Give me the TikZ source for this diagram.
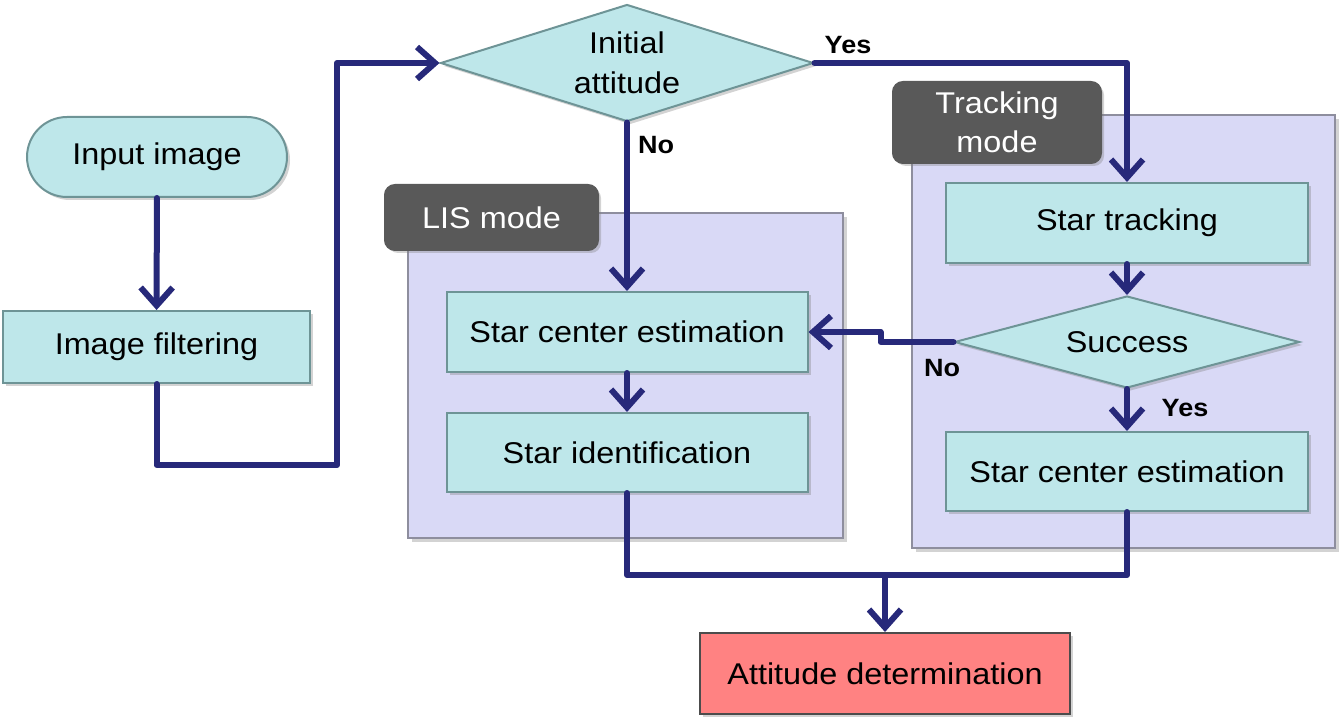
\documentclass[tikz,border=0pt]{standalone}
\usepackage{fontspec}
\setmainfont[FakeStretch=1.08]{Liberation Sans}
\usetikzlibrary{shapes.geometric,shadows,arrows.meta}

\definecolor{boxfill}{HTML}{BEE7EA}
\definecolor{boxline}{HTML}{6E9496}
\definecolor{modefill}{HTML}{D9D9F6}
\definecolor{modeline}{HTML}{8E8E9E}
\definecolor{tabfill}{HTML}{595959}
\definecolor{flowline}{HTML}{27297A}
\definecolor{endfill}{HTML}{FF8282}

\tikzset{
  every node/.style={font=\fontsize{30}{35}\selectfont, inner sep=0pt},
  procbox/.style={draw=boxline, line width=2pt, fill=boxfill,
    drop shadow={opacity=0.35, shadow xshift=3pt, shadow yshift=-3pt}},
  decbox/.style={procbox, diamond},
  modebox/.style={draw=modeline, line width=2pt, fill=modefill,
    drop shadow={opacity=0.35, shadow xshift=4pt, shadow yshift=-4pt}},
  modetab/.style={draw=gray!70!black, line width=2pt, fill=tabfill, text=white,
    rounded corners=10pt, align=center, font=\fontsize{30}{39}\selectfont,
    drop shadow={opacity=0.35, shadow xshift=3pt, shadow yshift=-3pt}},
  flow/.style={draw=flowline, line width=6pt, line cap=round, line join=round},
  arr/.style={flow, -{Straight Barb[length=18pt,width=32pt]}},
  answer/.style={font=\bfseries\fontsize{25}{30}\selectfont},
}

\begin{document}
\begin{tikzpicture}[x=1pt,y=-1pt]
\useasboundingbox (0,0) rectangle (1339,719);

% mode containers
\node[modebox, minimum width=435pt, minimum height=325pt] (lis) at (625.5,375.5) {};
\node[modetab, minimum width=213pt, minimum height=65pt] (listab) at (491.5,217.5) {LIS mode};
\node[modebox, minimum width=423pt, minimum height=433pt] (trk) at (1123.5,331.5) {};
\node[modetab, minimum width=208pt, minimum height=81pt] (trktab) at (997,122.5) {Tracking\\mode};

% left column
\node[procbox, rounded corners=40pt, minimum width=260pt, minimum height=80pt] (input) at (157,157) {Input image};
\node[procbox, minimum width=307pt, minimum height=72pt] (filter) at (156.5,347) {Image filtering};

% decision on the initial attitude
\node[decbox, minimum width=373pt, minimum height=117pt,
  label={[align=center, font=\fontsize{30}{40}\selectfont]center:Initial\\attitude}] (initatt) at (627,63) {};

% LIS mode
\node[procbox, minimum width=361pt, minimum height=80pt] (liscenter) at (627,332) {Star center estimation};
\node[procbox, minimum width=361pt, minimum height=79pt] (lisident) at (627,452.5) {Star identification};

% tracking mode
\node[procbox, minimum width=362pt, minimum height=80pt] (trkstar) at (1127,223) {Star tracking};
\node[decbox, minimum width=345pt, minimum height=92pt,
  label=center:Success] (success) at (1127,342) {};
\node[procbox, minimum width=362pt, minimum height=79pt] (trkcenter) at (1127,471.5) {Star center estimation};

% result
\node[procbox, fill=endfill, draw=gray!60!black, minimum width=370pt, minimum height=81pt] (attdet) at (885,673.5) {Attitude determination};

% answers
\node[answer] (yes1) at (848,45) {Yes};
\node[answer] (no1) at (656,145) {No};
\node[answer] (no2) at (942,368) {No};
\node[answer] (yes2) at (1185,408) {Yes};

\coordinate (merge) at (885,575);

% connectors
\draw[arr] (input) -- (filter);
\draw[arr] (filter.south) |- (337,465) |- (initatt.west);
\draw[arr] (initatt.east) -| (trkstar.north);
\draw[arr] (initatt.south) -- (liscenter.north);
\draw[arr] (liscenter) -- (lisident);
\draw[arr] (trkstar) -- (success);
\draw[arr] (success.south) -- (trkcenter.north);
\draw[arr] (success.west) -- ++(-73,0) |- (liscenter.east);
\draw[flow] (lisident.south) |- (merge) -| (trkcenter.south);
\draw[arr] (merge) -- (attdet.north);

\end{tikzpicture}
\end{document}
